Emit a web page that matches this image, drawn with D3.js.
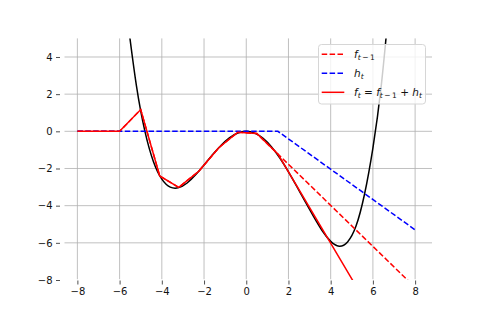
<!DOCTYPE html>
<html>
<head>
<meta charset="utf-8">
<style>
body { margin: 0; background: #fff; }
svg { font: 10px "DejaVu Sans", sans-serif; }
</style>
<script src="https://d3js.org/d3.v7.min.js"></script>
</head>
<body>
<svg id="chart" width="480" height="320"></svg>
<script>

// target function (black curve)
var targetX = [-5.6, -5.2, -4.8, -4.4, -4.0, -3.6, -3.2, -2.8, -2.4, -2.0, -1.6, -1.2, -0.8, -0.4, 0,
               0.4, 0.8, 1.2, 1.6, 2.0, 2.4, 2.8, 3.2, 3.6, 4.0, 4.4, 4.8, 5.2, 5.6, 6.0, 6.4, 6.8];
var targetY = [5.8, 2.43, 0, -1.62, -2.57, -3.0, -3.03, -2.78, -2.34, -1.81, -1.26, -0.76, -0.35, -0.09, 0,
               -0.1, -0.38, -0.84, -1.45, -2.18, -2.98, -3.8, -4.6, -5.35, -5.92, -6.18, -5.95, -5.1, -3.4, -0.9, 2.5, 7.2];

// previous model f_{t-1}
var prevX = [-8, -6, -5, -4.1, -3.2, -2.25, -1.3, -0.4, 0.5, 8];
var prevY = [0, 0, 1.17, -2.4, -3.02, -2.15, -0.88, -0.05, -0.12, -8.4];

// new weak learner h_t
var hX = [-8, 1.5, 8];
var hY = [0, 0, -5.3];

// updated model f_t
var curX = [-8, -6, -5, -4.1, -3.2, -2.25, -1.3, -0.4, 0.5, 1.5, 8];
var curY = [0, 0, 1.17, -2.4, -3.02, -2.15, -0.88, -0.05, -0.12, -1.22, -13.7];

var xTicks = [-8, -6, -4, -2, 0, 2, 4, 6, 8];
var yTicks = [-8, -6, -4, -2, 0, 2, 4];

// plot box (window.top is reserved, so use other names)
var pLeft = 60.5, pRight = 432, pTop = 38.4, pBottom = 280;

var x = d3.scaleLinear().domain([-8.8, 8.8]).range([pLeft, pRight]);
var y = d3.scaleLinear().domain([-8, 5]).range([pBottom, pTop]);

var svg = d3.select("#chart");

svg.append("defs").append("clipPath")
    .attr("id", "plotClip")
    .append("rect")
    .attr("x", pLeft).attr("y", pTop)
    .attr("width", pRight - pLeft).attr("height", pBottom - pTop);

// grid
var grid = svg.append("g").attr("stroke", "#b0b0b0").attr("stroke-width", 0.8);
grid.selectAll(".vgrid").data(xTicks).enter().append("line")
    .attr("x1", function(d) { return x(d); }).attr("x2", function(d) { return x(d); })
    .attr("y1", pTop).attr("y2", pBottom - 0.8);
grid.selectAll(".hgrid").data(yTicks.filter(function(d) { return y(d) < pBottom - 1; })).enter().append("line")
    .attr("x1", pLeft + 4).attr("x2", pRight)
    .attr("y1", function(d) { return y(d); }).attr("y2", function(d) { return y(d); });

// axes: ticks only, no spines
var xAxis = d3.axisBottom(x).tickValues(xTicks).tickSize(4).tickPadding(3.5);
var yAxis = d3.axisLeft(y).tickValues(yTicks).tickSize(4).tickPadding(3.5);

var gx = svg.append("g").attr("transform", "translate(0," + (pBottom + 0.5) + ")").call(xAxis);
var gy = svg.append("g").attr("transform", "translate(" + (pLeft - 0.5) + ",0)").call(yAxis);
[gx, gy].forEach(function(g) {
    g.select(".domain").remove();
    g.selectAll("line").attr("stroke", "#222").attr("stroke-width", 0.8);
    g.selectAll("text").attr("fill", "#111")
        .style("font-family", "'DejaVu Sans', sans-serif").style("font-size", "10px");
});

var line = d3.line()
    .x(function(d) { return x(d[0]); })
    .y(function(d) { return y(d[1]); });

var smooth = d3.line()
    .curve(d3.curveNatural)
    .x(function(d) { return x(d[0]); })
    .y(function(d) { return y(d[1]); });

var plot = svg.append("g").attr("clip-path", "url(#plotClip)").attr("fill", "none");

plot.append("path")
    .attr("d", smooth(d3.zip(targetX, targetY)))
    .attr("stroke", "#000").attr("stroke-width", 1.5);

plot.append("path")
    .attr("d", line(d3.zip(prevX, prevY)))
    .attr("stroke", "#ff0000").attr("stroke-width", 1.5)
    .attr("stroke-dasharray", "5.5,2.4");

plot.append("path")
    .attr("d", line(d3.zip(hX, hY)))
    .attr("stroke", "#0000ff").attr("stroke-width", 1.5)
    .attr("stroke-dasharray", "5.5,2.4");

plot.append("path")
    .attr("d", line(d3.zip(curX, curY)))
    .attr("stroke", "#ff0000").attr("stroke-width", 1.5);

// legend
var legend = svg.append("g");
legend.append("rect")
    .attr("x", 318.5).attr("y", 44.5).attr("width", 107).attr("height", 59.5)
    .attr("rx", 3).attr("fill", "#fff").attr("fill-opacity", 0.8)
    .attr("stroke", "#d6d6d6").attr("stroke-width", 1);

var legendItems = [
    { color: "#ff0000", dash: "5.5,2.4", parts: [["f", "i"], ["t", "si"], ["\u2009\u2212\u20091", "s"]] },
    { color: "#0000ff", dash: "5.5,2.4", parts: [["h", "i"], ["t", "si"]] },
    { color: "#ff0000", dash: null, parts: [["f", "i"], ["t", "si"], [" = ", "n"], ["f", "i"], ["t", "si"],
        ["\u2009\u2212\u20091", "s"], [" + ", "n"], ["h", "i"], ["t", "si"]] }
];

legendItems.forEach(function(item, i) {
    var ly = 54.3 + i * 19;
    legend.append("line")
        .attr("x1", 321.7).attr("x2", 344.3).attr("y1", ly).attr("y2", ly)
        .attr("stroke", item.color).attr("stroke-width", 1.5)
        .attr("stroke-dasharray", item.dash);
    var t = legend.append("text").attr("x", 354).attr("y", ly + 3.5)
        .attr("fill", "#111").style("font-size", "10.5px");
    var lowered = false;
    item.parts.forEach(function(p) {
        var sub = p[1].indexOf("s") === 0;
        var ts = t.append("tspan").text(p[0]);
        if (p[1].indexOf("i") !== -1) ts.style("font-style", "italic");
        if (sub) {
            ts.style("font-size", "7.5px");
            if (!lowered) { ts.attr("dy", 2.5); lowered = true; }
        } else if (lowered) {
            ts.attr("dy", -2.5); lowered = false;
        }
    });
});

</script>
</body>
</html>
